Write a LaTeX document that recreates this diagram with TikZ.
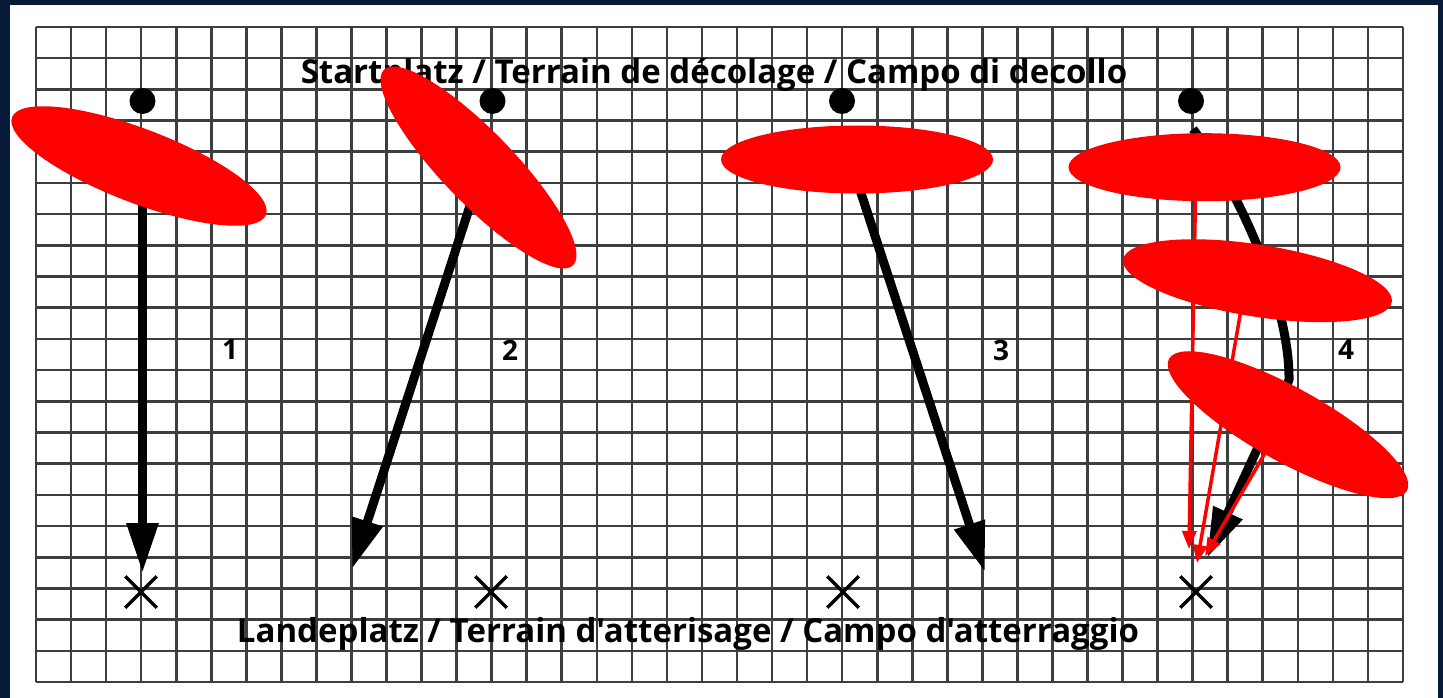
\documentclass[tikz,border=0pt]{standalone}
\usepackage{fontspec}
\newfontfamily\labfont{Open Sans}
\usetikzlibrary{arrows.meta,shapes.geometric,shapes.misc}
\definecolor{navy}{RGB}{8,26,58}
\definecolor{gridgray}{RGB}{62,62,62}
\tikzset{
  gridline/.style={draw=gridgray,line width=2.6pt},
  startdot/.style={circle,fill=black,inner sep=0pt,minimum size=26pt},
  landx/.style={cross out,draw=black,line width=3.5pt,inner sep=0pt,minimum size=28pt},
  flight/.style={draw=black,line width=9pt,line join=round,-{Triangle[length=50pt,width=30pt]}},
  redpath/.style={draw=red,line width=3.5pt,-{Triangle[length=18pt,width=14pt]}},
  wing/.style={ellipse,fill=red,inner sep=0pt,minimum width=272pt,minimum height=68pt},
  label/.style={font=\labfont\bfseries\fontsize{33}{36}\selectfont,inner sep=0pt},
  num/.style={font=\labfont\bfseries\fontsize{28}{30}\selectfont,inner sep=0pt}
}
\begin{document}
\begin{tikzpicture}[x=1pt,y=-1pt]
\useasboundingbox (0,0) rectangle (1443,698);
\fill[navy] (0,0) rectangle (1443,698);
\fill[white] (10,5) rectangle (1438,698);
% grid
\foreach \i in {0,...,39} \draw[gridline] ({36+35.05*\i},27) -- ({36+35.05*\i},682);
\foreach \j in {0,...,21} \draw[gridline] (36,{27+31.19*\j}) -- (1403,{27+31.19*\j});
% labels
\node[label] (top) at (714,75) {Startplatz / Terrain de décolage / Campo di decollo};
\node[label] (bot) at (688,634) {Landeplatz / Terrain d'atterisage / Campo d'atterraggio};
\node[num] (n1) at (230,350) {1};
\node[num] (n2) at (510,350) {2};
\node[num] (n3) at (1001,350) {3};
\node[num] (n4) at (1346,350) {4};
% start dots
\node[startdot] (d1) at (142.5,101) {};
\node[startdot] (d2) at (492.5,101) {};
\node[startdot] (d3) at (842,101) {};
\node[startdot] (d4) at (1191,101) {};
% landing crosses
\node[landx] (x1) at (141,592) {};
\node[landx] (x2) at (491,592) {};
\node[landx] (x3) at (843,592) {};
\node[landx] (x4) at (1196,592) {};
% flight path coordinates
\coordinate (s1) at (142.5,140);
\coordinate (t1) at (142.5,573);
\coordinate (s2) at (493,135);
\coordinate (t2) at (352,569);
\coordinate (s3) at (842,135);
\coordinate (t3) at (985,572);
\coordinate (s4) at (1193,129);
\coordinate (b4) at (1289,380);
\coordinate (t4) at (1207,558);
\draw[flight] (s1) -- (t1);
\draw[flight] (s2) -- (t2);
\draw[flight] (s3) -- (t3);
\draw[flight] (s4) .. controls (1245,200) and (1290,310) .. (b4) -- (t4);
% red paths
\coordinate (r4) at (1196,167);
\coordinate (r5) at (1246,281);
\coordinate (r6) at (1282,424);
\coordinate (q4) at (1189,549);
\coordinate (q5) at (1197,563);
\coordinate (q6) at (1205,556);
\draw[redpath] (r4) -- (q4);
\draw[redpath] (r5) -- (q5);
\draw[redpath] (r6) -- (q6);
% red ellipses
\node[wing,rotate=-21,minimum height=74pt] (e1) at (139,166) {};
\node[wing,rotate=-46,minimum height=72pt] (e2) at (478.5,167.5) {};
\node[wing] (e3) at (857,159.5) {};
\node[wing] (e4) at (1204.5,167.2) {};
\node[wing,rotate=-9,minimum height=72pt] (e5) at (1257.5,280.7) {};
\node[wing,rotate=-29,minimum height=74pt] (e6) at (1288,424.7) {};
\end{tikzpicture}
\end{document}
